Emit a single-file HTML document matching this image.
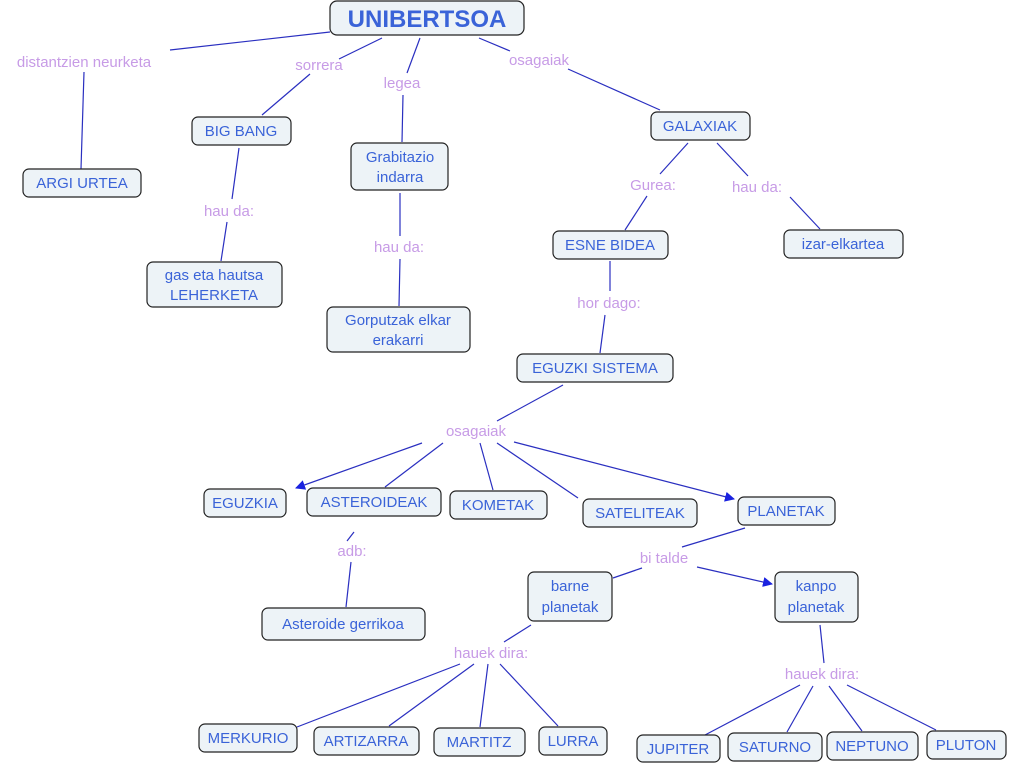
<!DOCTYPE html>
<html><head><meta charset="utf-8"><style>
body{margin:0;background:#fff}
svg{display:block}
.n{fill:#edf3f7;stroke:#222;stroke-width:1.2}
.t{font-family:"Liberation Sans",sans-serif;font-size:15px;fill:#3a63d8;text-anchor:middle}
.l{font-family:"Liberation Sans",sans-serif;font-size:15px;fill:#c79be6;text-anchor:middle}
line{stroke:#2a2fc0;stroke-width:1.2}
</style></head><body>
<svg width="1010" height="765" viewBox="0 0 1010 765">
<defs><marker id="a" markerWidth="10" markerHeight="10" refX="9" refY="5" orient="auto" markerUnits="userSpaceOnUse"><path d="M0,0 L10,5 L0,10z" fill="#1a22e0"/></marker></defs>
<!-- lines -->
<line x1="330" y1="32" x2="170" y2="50"/>
<line x1="84" y1="72" x2="81" y2="169"/>
<line x1="382" y1="38" x2="339" y2="59"/>
<line x1="310" y1="74" x2="262" y2="115"/>
<line x1="420" y1="38" x2="407" y2="73"/>
<line x1="403" y1="95" x2="402" y2="142"/>
<line x1="479" y1="38" x2="510" y2="51"/>
<line x1="568" y1="69" x2="660" y2="110"/>
<line x1="239" y1="148" x2="232" y2="199"/>
<line x1="227" y1="222" x2="221" y2="261"/>
<line x1="400" y1="193" x2="400" y2="236"/>
<line x1="400" y1="259" x2="399" y2="306"/>
<line x1="688" y1="143" x2="660" y2="174"/>
<line x1="647" y1="196" x2="625" y2="230"/>
<line x1="717" y1="143" x2="748" y2="176"/>
<line x1="790" y1="197" x2="820" y2="229"/>
<line x1="610" y1="261" x2="610" y2="291"/>
<line x1="605" y1="315" x2="600" y2="353"/>
<line x1="563" y1="385" x2="497" y2="421"/>
<line x1="422" y1="443" x2="296" y2="488" marker-end="url(#a)"/>
<line x1="443" y1="443" x2="385" y2="487"/>
<line x1="480" y1="443" x2="493" y2="490"/>
<line x1="497" y1="443" x2="578" y2="498"/>
<line x1="514" y1="442" x2="734" y2="499" marker-end="url(#a)"/>
<line x1="354" y1="532" x2="347" y2="541"/>
<line x1="351" y1="562" x2="346" y2="607"/>
<line x1="745" y1="528" x2="682" y2="547"/>
<line x1="642" y1="568" x2="613" y2="578"/>
<line x1="697" y1="567" x2="772" y2="584" marker-end="url(#a)"/>
<line x1="531" y1="625" x2="504" y2="642"/>
<line x1="460" y1="664" x2="297" y2="727"/>
<line x1="474" y1="664" x2="389" y2="726"/>
<line x1="488" y1="664" x2="480" y2="727"/>
<line x1="500" y1="664" x2="558" y2="726"/>
<line x1="820" y1="625" x2="824" y2="663"/>
<line x1="800" y1="685" x2="705" y2="735"/>
<line x1="813" y1="686" x2="787" y2="732"/>
<line x1="829" y1="686" x2="862" y2="731"/>
<line x1="847" y1="685" x2="936" y2="730"/>
<!-- labels -->
<g class="l">
<rect x="0" y="50" width="170" height="22" fill="#fff"/>
<text x="84" y="67">distantzien neurketa</text>
<text x="319" y="70">sorrera</text>
<text x="402" y="88">legea</text>
<text x="539" y="65">osagaiak</text>
<text x="653" y="190">Gurea:</text>
<text x="757" y="192">hau da:</text>
<text x="229" y="216">hau da:</text>
<text x="399" y="252">hau da:</text>
<text x="609" y="308">hor dago:</text>
<text x="476" y="436">osagaiak</text>
<text x="352" y="556">adb:</text>
<text x="664" y="563">bi talde</text>
<text x="491" y="658">hauek dira:</text>
<text x="822" y="679">hauek dira:</text>
</g>
<!-- nodes -->
<rect class="n" x="330" y="1" width="194" height="34" rx="7"/>
<text x="427" y="27" class="t" style="font-size:24px;font-weight:bold">UNIBERTSOA</text>
<g>
<rect class="n" x="192" y="117" width="99" height="28" rx="6"/><text class="t" x="241" y="136">BIG BANG</text>
<rect class="n" x="351" y="143" width="97" height="47" rx="6"/><text class="t" x="400" y="162">Grabitazio</text><text class="t" x="400" y="182">indarra</text>
<rect class="n" x="23" y="169" width="118" height="28" rx="6"/><text class="t" x="82" y="188">ARGI URTEA</text>
<rect class="n" x="651" y="112" width="99" height="28" rx="6"/><text class="t" x="700" y="131">GALAXIAK</text>
<rect class="n" x="553" y="231" width="115" height="28" rx="6"/><text class="t" x="610" y="250">ESNE BIDEA</text>
<rect class="n" x="784" y="230" width="119" height="28" rx="6"/><text class="t" x="843" y="249">izar-elkartea</text>
<rect class="n" x="147" y="262" width="135" height="45" rx="6"/><text class="t" x="214" y="280">gas eta hautsa</text><text class="t" x="214" y="300">LEHERKETA</text>
<rect class="n" x="327" y="307" width="143" height="45" rx="6"/><text class="t" x="398" y="325">Gorputzak elkar</text><text class="t" x="398" y="345">erakarri</text>
<rect class="n" x="517" y="354" width="156" height="28" rx="6"/><text class="t" x="595" y="373">EGUZKI SISTEMA</text>
<rect class="n" x="204" y="489" width="82" height="28" rx="6"/><text class="t" x="245" y="508">EGUZKIA</text>
<rect class="n" x="307" y="488" width="134" height="28" rx="6"/><text class="t" x="374" y="507">ASTEROIDEAK</text>
<rect class="n" x="450" y="491" width="97" height="28" rx="6"/><text class="t" x="498" y="510">KOMETAK</text>
<rect class="n" x="583" y="499" width="114" height="28" rx="6"/><text class="t" x="640" y="518">SATELITEAK</text>
<rect class="n" x="738" y="497" width="97" height="28" rx="6"/><text class="t" x="786" y="516">PLANETAK</text>
<rect class="n" x="528" y="572" width="84" height="49" rx="6"/><text class="t" x="570" y="591">barne</text><text class="t" x="570" y="612">planetak</text>
<rect class="n" x="775" y="572" width="83" height="50" rx="6"/><text class="t" x="816" y="591">kanpo</text><text class="t" x="816" y="612">planetak</text>
<rect class="n" x="262" y="608" width="163" height="32" rx="6"/><text class="t" x="343" y="629">Asteroide gerrikoa</text>
<rect class="n" x="199" y="724" width="98" height="28" rx="6"/><text class="t" x="248" y="743">MERKURIO</text>
<rect class="n" x="314" y="727" width="105" height="28" rx="6"/><text class="t" x="366" y="746">ARTIZARRA</text>
<rect class="n" x="434" y="728" width="91" height="28" rx="6"/><text class="t" x="479" y="747">MARTITZ</text>
<rect class="n" x="539" y="727" width="68" height="28" rx="6"/><text class="t" x="573" y="746">LURRA</text>
<rect class="n" x="637" y="735" width="83" height="27" rx="6"/><text class="t" x="678" y="754">JUPITER</text>
<rect class="n" x="728" y="733" width="94" height="28" rx="6"/><text class="t" x="775" y="752">SATURNO</text>
<rect class="n" x="827" y="732" width="91" height="28" rx="6"/><text class="t" x="872" y="751">NEPTUNO</text>
<rect class="n" x="927" y="731" width="79" height="28" rx="6"/><text class="t" x="966" y="750">PLUTON</text>
</g>
</svg>
</body></html>
